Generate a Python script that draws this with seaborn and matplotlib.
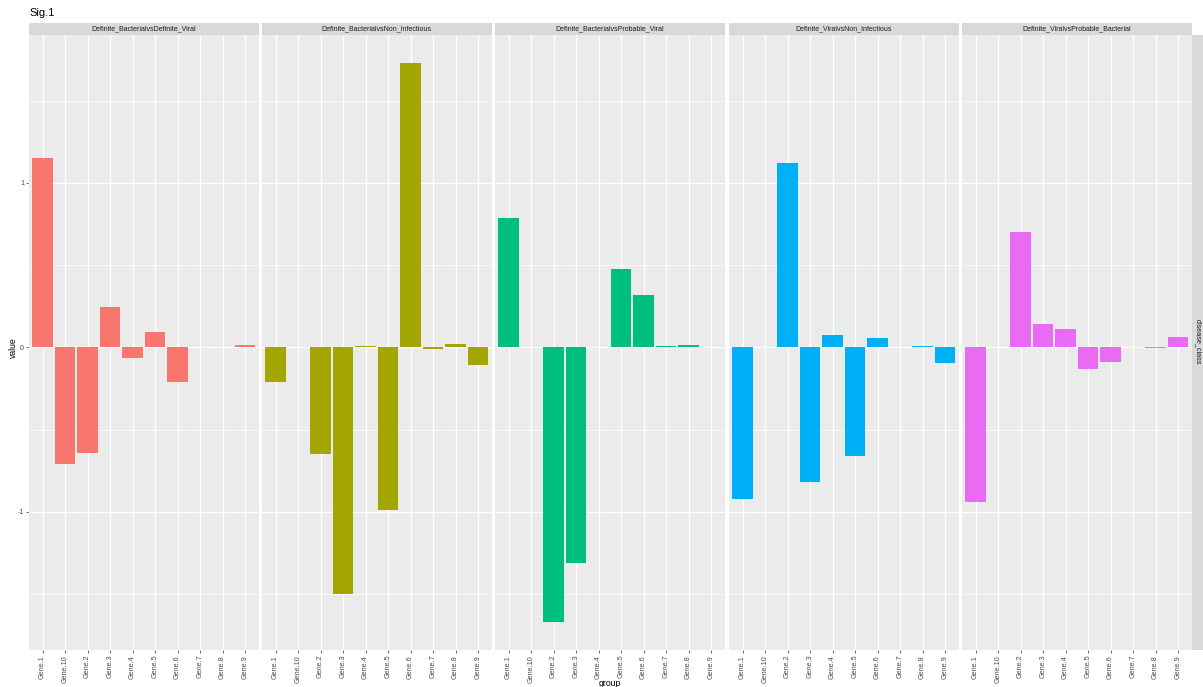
import numpy as np
import pandas as pd
import matplotlib
matplotlib.use("Agg")
import matplotlib.pyplot as plt
from matplotlib.patches import Rectangle
from matplotlib.ticker import MultipleLocator
import seaborn as sns

# Gene order follows alphabetical factor levels
genes = ["Gene.1", "Gene.10", "Gene.2", "Gene.3", "Gene.4",
         "Gene.5", "Gene.6", "Gene.7", "Gene.8", "Gene.9"]

comparisons = [
    "Definite_BacterialvsDefinite_Viral",
    "Definite_BacterialvsNon_Infectious",
    "Definite_BacterialvsProbable_Viral",
    "Definite_ViralvsNon_Infectious",
    "Definite_ViralvsProbable_Bacterial",
]

bact_vs_viral = [1.15, -0.71, -0.64, 0.246, -0.067, 0.093, -0.21, 0.0, 0.0, 0.012]
bact_vs_noninf = [-0.21, 0.0, -0.65, -1.50, 0.008, -0.99, 1.73, -0.01, 0.02, -0.105]
bact_vs_probviral = [0.79, 0.0, -1.67, -1.31, 0.005, 0.48, 0.32, 0.008, 0.017, 0.0]
viral_vs_noninf = [-0.92, 0.0, 1.12, -0.82, 0.073, -0.66, 0.055, 0.0, 0.006, -0.097]
viral_vs_probbact = [-0.94, 0.0, 0.70, 0.14, 0.11, -0.13, -0.09, 0.0, -0.005, 0.065]

series = [bact_vs_viral, bact_vs_noninf, bact_vs_probviral,
          viral_vs_noninf, viral_vs_probbact]

palette = ["#F8766D", "#A3A500", "#00BF7D", "#00B0F6", "#E76BF3"]

df = pd.concat(
    [pd.DataFrame({"group": genes, "value": vals, "disease_class": name})
     for name, vals in zip(comparisons, series)],
    ignore_index=True,
)

W, H = 1203, 687
fig = plt.figure(figsize=(W / 100, H / 100), dpi=100)
fig.patch.set_facecolor("white")

font = "Liberation Sans"

vmin, vmax = df["value"].min(), df["value"].max()
pad = 0.05 * (vmax - vmin)
ylim = (vmin - pad, vmax + pad)

panel_left = [29, 262, 495, 729, 962]
panel_w = 229.5
panel_top, panel_bottom = 35, 650
strip_top = 23

for i, (name, color) in enumerate(zip(comparisons, palette)):
    x0 = panel_left[i]
    ax = fig.add_axes([x0 / W, 1 - panel_bottom / H, panel_w / W,
                       (panel_bottom - panel_top) / H])
    sub = df[df["disease_class"] == name]
    sns.barplot(data=sub, x="group", y="value", order=genes, color=color,
                width=0.9, saturation=1, errorbar=None, ax=ax, zorder=3,
                linewidth=0)
    ax.set_facecolor("#EBEBEB")
    ax.set_xlim(-0.6, len(genes) - 0.4)
    ax.set_ylim(*ylim)
    ax.yaxis.set_major_locator(MultipleLocator(1))
    ax.yaxis.set_minor_locator(MultipleLocator(0.5))
    ax.grid(False)
    ax.set_axisbelow(True)
    for g in range(len(genes)):
        ax.axvline(g, color="white", lw=1.0, zorder=1)
    for yv in (-1, 0, 1):
        ax.axhline(yv, color="white", lw=1.0, zorder=1)
    for yv in (-1.5, -0.5, 0.5, 1.5):
        ax.axhline(yv, color="white", lw=0.5, zorder=1)
    for s in ax.spines.values():
        s.set_visible(False)
    ax.set_xlabel("")
    ax.set_ylabel("")
    ax.tick_params(axis="x", which="major", length=2, width=0.5,
                   color="#333333", labelsize=5.2, labelcolor="#4D4D4D",
                   labelrotation=90, pad=1.5)
    ax.tick_params(axis="y", which="both", length=0)
    for lbl in ax.get_xticklabels():
        lbl.set_fontfamily(font)
    if i == 0:
        ax.tick_params(axis="y", which="major", length=2, width=0.5,
                       color="#333333", labelsize=5.2, labelcolor="#4D4D4D",
                       pad=1.5)
        ax.set_yticks([-1, 0, 1])
        ax.set_yticklabels(["-1", "0", "1"], fontfamily=font)
    else:
        ax.set_yticklabels([])
    # facet strip on top
    fig.patches.append(Rectangle((x0 / W, 1 - panel_top / H), panel_w / W,
                                 (panel_top - strip_top) / H,
                                 transform=fig.transFigure,
                                 facecolor="#D9D9D9", edgecolor="none"))
    fig.text((x0 + panel_w / 2) / W, 1 - (panel_top + strip_top) / 2 / H, name,
             ha="center", va="center", fontsize=5.0, color="#1A1A1A",
             fontfamily=font)

# right-hand strip label
fig.patches.append(Rectangle((1192 / W, 1 - panel_bottom / H), 14 / W,
                             (panel_bottom - panel_top) / H,
                             transform=fig.transFigure,
                             facecolor="#D9D9D9", edgecolor="none"))
fig.text(1198 / W, 1 - 342 / H, "disease_class", rotation=-90, ha="center",
         va="center", fontsize=5.2, color="#1A1A1A", fontfamily=font)

fig.text(29 / W, 1 - 13 / H, "Sig.1", ha="left", va="center", fontsize=8,
         color="black", fontfamily=font)
fig.text(13 / W, 1 - 348 / H, "value", rotation=90, ha="center", va="center",
         fontsize=6.2, color="black", fontfamily=font)
fig.text(610 / W, 1 - 684 / H, "group", ha="center", va="center",
         fontsize=6.2, color="black", fontfamily=font)

fig.savefig("out.png", dpi=100, facecolor="white")
